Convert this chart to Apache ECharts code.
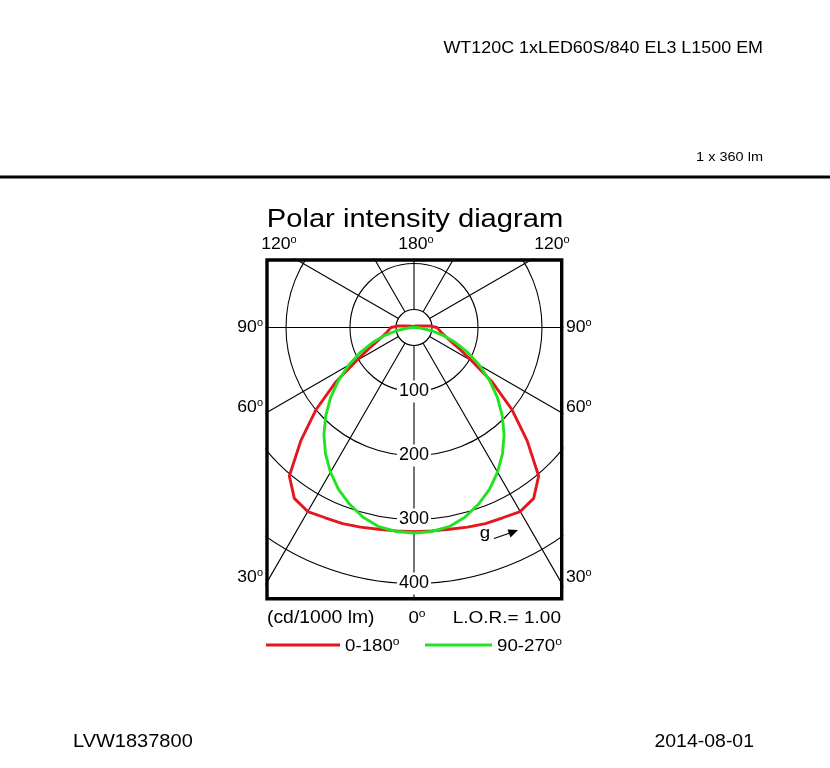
<!DOCTYPE html>
<html>
<head>
<meta charset="utf-8">
<script src="https://cdn.jsdelivr.net/npm/echarts@6/dist/echarts.min.js"></script>
<style>
html,body{margin:0;padding:0;background:#fff;}
#chart{width:830px;height:768px;}
</style>
</head>
<body>
<div id="chart"></div>
<script>
// ---- data (cd/1000 lm) ----
const gammaAngles = [0,5,10,15,20,25,30,35,40,45,50,55,60,65,70,75,80,85,90,95,100,105,110,115,120,125,130,135,140,145,150,155,160,165,170,175,180];
const plane0_180 = [319,319,320,323,326,328,332,326,303,250,200,150,104,78,60,50,43,39,36,26,13,9,7,5,4,4,3,3,3,3,2,2,2,2,1,1,1];
const plane90_270 = [321,320,316,307,294,279,261,241,219,195,170,144,118,93,69,47,27,10,2,0,0,0,0,0,0,0,0,0,0,0,0,0,0,0,0,0,0];
const radiusTicks = [100,200,300,400];
const seriesNames = ['0-180','90-270'];
const angleLabels = {top:['120','180','120'], side:['90','60','30'], bottom:'0'};
const titleText = 'Polar intensity diagram';
const headerText = 'WT120C 1xLED60S/840 EL3 L1500 EM';
const fluxText = '1 x 360 lm';
const unitText = '(cd/1000 lm)';
const lorText = 'L.O.R.= 1.00';
const codeText = 'LVW1837800';
const dateText = '2014-08-01';

// symmetric closed loop: gamma 0..180 on one side, mirrored on the other
function loop(vals){
  const pts = [];
  for (let i = 0; i < gammaAngles.length; i++) pts.push([vals[i], gammaAngles[i]]);
  for (let i = gammaAngles.length - 2; i >= 0; i--) pts.push([vals[i], 360 - gammaAngles[i]]);
  return pts;
}

const CX = 414, CY = 327.5, R = 320;
const BOX = {x1:267, y1:260, x2:561.7, y2:598.7};
const FONT = '"Liberation Sans", Arial, Helvetica, sans-serif';
const SX = 1.1;
const DY = 2;
const RED = '#e5161e', GREEN = '#22e322';

function T(x, y, text, size, align, sup){
  const rich = {
    m: {fontSize: size, fontFamily: FONT, lineHeight: size + 3, fill:'#000'},
    s: {fontSize: Math.round(size*0.64), fontFamily: FONT, lineHeight: Math.round(size*0.64), verticalAlign: 'top', fill:'#000'}
  };
  return {
    type: 'text', x: x, y: y + DY, scaleX: SX, z: 20,
    style: {
      text: '{m|' + text + '}' + (sup ? '{s|o}' : ''),
      rich: rich, align: align, verticalAlign: 'middle', fill: '#000'
    }
  };
}

const graphics = [
  // center cap
  {type:'circle', shape:{cx:CX, cy:CY, r:18}, style:{fill:'#fff', stroke:'#000', lineWidth:1.2}, z:2},
  // white covers outside the frame
  {type:'rect', shape:{x:0, y:0, width:830, height:BOX.y1-1.6}, style:{fill:'#fff'}, z:10},
  {type:'rect', shape:{x:0, y:BOX.y2+1.6, width:830, height:200}, style:{fill:'#fff'}, z:10},
  {type:'rect', shape:{x:0, y:0, width:BOX.x1-1.6, height:768}, style:{fill:'#fff'}, z:10},
  {type:'rect', shape:{x:BOX.x2+1.6, y:0, width:300, height:768}, style:{fill:'#fff'}, z:10},
  // frame
  {type:'rect', shape:{x:BOX.x1, y:BOX.y1, width:BOX.x2-BOX.x1, height:BOX.y2-BOX.y1}, style:{fill:null, stroke:'#000', lineWidth:3.4}, z:11},
  // top rule
  {type:'line', shape:{x1:0, y1:177, x2:830, y2:177}, style:{stroke:'#000', lineWidth:3}, z:12},
  // texts
  T(763, 47, headerText, 16.3, 'right', false),
  T(763, 155, fluxText, 13.2, 'right', false),
  T(415, 218, titleText, 26.5, 'center', false),
  T(279, 243, angleLabels.top[0], 16, 'center', true),
  T(416, 243, angleLabels.top[1], 16, 'center', true),
  T(552, 243, angleLabels.top[2], 16, 'center', true),
  T(263, 326, angleLabels.side[0], 16, 'right', true),
  T(566, 326, angleLabels.side[0], 16, 'left', true),
  T(263, 406, angleLabels.side[1], 16, 'right', true),
  T(566, 406, angleLabels.side[1], 16, 'left', true),
  T(263, 576, angleLabels.side[2], 16, 'right', true),
  T(566, 576, angleLabels.side[2], 16, 'left', true),
  T(417, 616, angleLabels.bottom, 17, 'center', true),
  T(267, 616, unitText, 17.6, 'left', false),
  T(561, 616, lorText, 17.3, 'right', false),
  // legend
  {type:'line', shape:{x1:266, y1:645, x2:340, y2:645}, style:{stroke:RED, lineWidth:2.8}, z:12},
  T(345, 644, seriesNames[0], 17, 'left', true),
  {type:'line', shape:{x1:425, y1:645, x2:492, y2:645}, style:{stroke:GREEN, lineWidth:2.8}, z:12},
  T(497, 644, seriesNames[1], 17, 'left', true),
  // g arrow annotation
  T(485, 531, 'g', 17, 'center', false),
  {type:'line', shape:{x1:494, y1:538.5, x2:510, y2:533}, style:{stroke:'#000', lineWidth:1.3}, z:12},
  {type:'polygon', shape:{points:[[518,530],[507.5,529.5],[510.5,537.5]]}, style:{fill:'#000'}, z:12},
  // footer
  T(73, 740, codeText, 18.2, 'left', false),
  T(754, 740, dateText, 17.7, 'right', false)
];

const chart = echarts.init(document.getElementById('chart'), null, {renderer:'canvas'});
chart.setOption({
  animation: false,
  backgroundColor: '#fff',
  polar: {center:[CX, CY], radius: R},
  angleAxis: {
    type:'value', min:0, max:360, interval:30, startAngle:270, clockwise:true, z:0,
    axisLine:{show:false}, axisTick:{show:false}, axisLabel:{show:false},
    splitLine:{show:true, lineStyle:{color:'#000', width:1.1}}
  },
  radiusAxis: {
    type:'value', min:0, max:500, interval:100, z:1,
    axisLine:{show:false}, axisTick:{show:false},
    splitLine:{show:true, lineStyle:{color:'#000', width:1.1}},
    axisLabel:{
      show:true, margin:0, align:'center', verticalAlign:'middle',
      fontSize:18, fontFamily:FONT, color:'#000', backgroundColor:'#fff', padding:[4,2,0,2],
      formatter: function(v){ return radiusTicks.indexOf(v) >= 0 ? String(v) : ''; }
    }
  },
  series: [
    {name:seriesNames[0], type:'line', coordinateSystem:'polar', data:loop(plane0_180), showSymbol:false, symbol:'none', z:3,
     lineStyle:{color:RED, width:2.9}},
    {name:seriesNames[1], type:'line', coordinateSystem:'polar', data:loop(plane90_270), showSymbol:false, symbol:'none', z:3,
     lineStyle:{color:GREEN, width:2.9}}
  ],
  graphic: {elements: graphics}
});
</script>
</body>
</html>
